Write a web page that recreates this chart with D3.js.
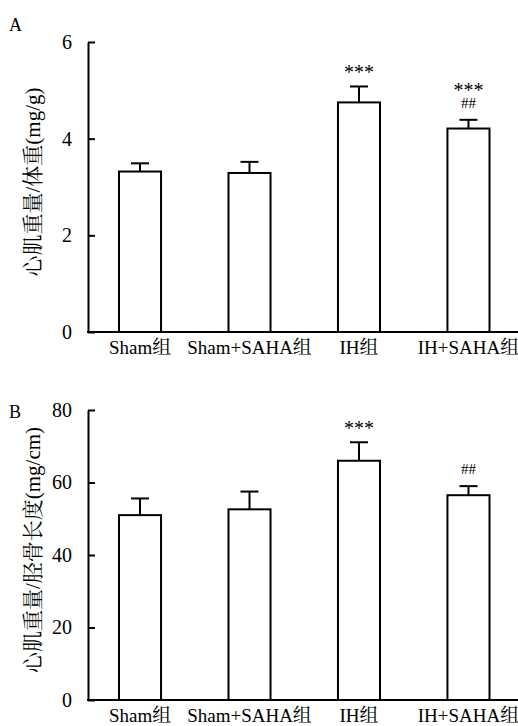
<!DOCTYPE html>
<html>
<head>
<meta charset="utf-8">
<script src="https://cdn.jsdelivr.net/npm/d3@7"></script>
<style>
  body { margin: 0; background: #fff; }
</style>
</head>
<body>
<div id="chart"></div>
<script>
// groups (same for both panels)
const groups = ["Sham组", "Sham+SAHA组", "IH组", "IH+SAHA组"];

// panel A: heart weight / body weight (mg/g)
const ratioA = [3.32, 3.29, 4.75, 4.21];
const errA = [0.17, 0.23, 0.33, 0.18];
const ticksA = [0, 2, 4, 6];
const marksA = [["", ""], ["", ""], ["***", ""], ["***", "##"]];

// panel B: heart weight / tibia length (mg/cm)
const ratioB = [51.0, 52.6, 66.0, 56.5];
const errB = [4.6, 4.9, 5.1, 2.5];
const ticksB = [0, 20, 40, 60, 80];
const marksB = [["", ""], ["", ""], ["***", ""], ["", "##"]];

const width = 518, height = 726;
const margin = ({left: 88, right: 0});
const latin = '"Liberation Serif"';
const cjk = '"Noto Serif CJK SC"';

// split a string into latin / cjk runs, each in its own tspan
function mixed(t, str) {
  t.text(null);
  (str.match(/[\u4e00-\u9fff]+|[^\u4e00-\u9fff]+/g) || []).forEach(run => {
    t.append("tspan")
      .style("font-family", /[\u4e00-\u9fff]/.test(run) ? cjk : latin)
      .text(run);
  });
}

const svg = d3.select("#chart")
  .append("svg")
    .attr("width", width)
    .attr("height", height);

const x = d3.scaleBand()
  .domain(groups)
  .range([119, 489.5])
  .paddingInner(0.616)
  .paddingOuter(0);

function panel(top, bottom, values, errs, ticks, marks, title, letter, letterY) {
  const y = d3.scaleLinear()
    .domain([0, d3.max(ticks)])
    .range([bottom, top]);

  const g = svg.append("g");

  // bars
  g.append("g")
    .selectAll("rect")
    .data(values)
    .join("rect")
      .attr("x", (d, i) => x(groups[i]))
      .attr("y", d => y(d))
      .attr("width", x.bandwidth())
      .attr("height", d => y(0) - y(d))
      .attr("fill", "#fff")
      .attr("stroke", "#000")
      .attr("stroke-width", 2);

  // error bars
  const eb = g.append("g")
    .attr("stroke", "#000")
    .attr("stroke-width", 2);
  eb.selectAll("line.v")
    .data(values)
    .join("line")
      .attr("class", "v")
      .attr("x1", (d, i) => x(groups[i]) + x.bandwidth() / 2)
      .attr("x2", (d, i) => x(groups[i]) + x.bandwidth() / 2)
      .attr("y1", d => y(d))
      .attr("y2", (d, i) => y(d + errs[i]));
  eb.selectAll("line.c")
    .data(values)
    .join("line")
      .attr("class", "c")
      .attr("x1", (d, i) => x(groups[i]) + x.bandwidth() / 2 - 9)
      .attr("x2", (d, i) => x(groups[i]) + x.bandwidth() / 2 + 9)
      .attr("y1", (d, i) => y(d + errs[i]))
      .attr("y2", (d, i) => y(d + errs[i]));

  // significance marks (one text per bar, stacked with tspans)
  marks.forEach((m, i) => {
    if (!m[0] && !m[1]) return;
    const cx = x(groups[i]) + x.bandwidth() / 2;
    const yt = y(values[i] + errs[i]);
    const t = g.append("text")
      .attr("text-anchor", "middle")
      .style("font-family", latin);
    if (m[0]) {
      t.append("tspan")
        .attr("x", cx)
        .attr("y", m[1] ? yt - 23 : yt - 7)
        .attr("font-size", 20)
        .style("font-family", latin)
        .text(m[0]);
    }
    if (m[1]) {
      t.append("tspan")
        .attr("x", cx)
        .attr("y", yt - 12)
        .attr("font-size", 15)
        .style("font-family", latin)
        .text(m[1]);
    }
  });

  // y axis
  const yAxis = g.append("g")
    .attr("transform", `translate(${margin.left},0)`)
    .call(d3.axisLeft(y).tickValues(ticks).tickFormat(d3.format("d"))
      .tickSizeInner(-7).tickSizeOuter(0).tickPadding(16));
  yAxis.select(".domain").attr("stroke-width", 2);
  yAxis.selectAll(".tick line").attr("stroke-width", 2);
  yAxis.selectAll(".tick text")
    .attr("font-size", 20)
    .style("font-family", latin);

  // x axis labels
  const xAxis = g.append("g")
    .attr("transform", `translate(0,${bottom})`)
    .call(d3.axisBottom(x).tickSize(0).tickPadding(9));
  xAxis.select(".domain").remove();
  xAxis.selectAll(".tick text")
    .attr("font-size", 19)
    .each(function(d) { mixed(d3.select(this), d); });

  // x axis line
  g.append("line")
    .attr("x1", margin.left - 1)
    .attr("x2", width - margin.right)
    .attr("y1", y(0))
    .attr("y2", y(0))
    .attr("stroke", "#000")
    .attr("stroke-width", 2);

  // y title
  g.append("text")
    .attr("transform", `translate(40,${(top + bottom) / 2 - 5}) rotate(-90)`)
    .attr("text-anchor", "middle")
    .attr("font-size", 21)
    .call(mixed, title);

  // panel letter
  g.append("text")
    .attr("x", 9)
    .attr("y", letterY)
    .attr("font-size", 18)
    .style("font-family", latin)
    .text(letter);
}

panel(42, 332, ratioA, errA, ticksA, marksA, "心肌重量/体重(mg/g)", "A", 31);
panel(410, 700, ratioB, errB, ticksB, marksB, "心肌重量/胫骨长度(mg/cm)", "B", 418);
</script>
</body>
</html>
